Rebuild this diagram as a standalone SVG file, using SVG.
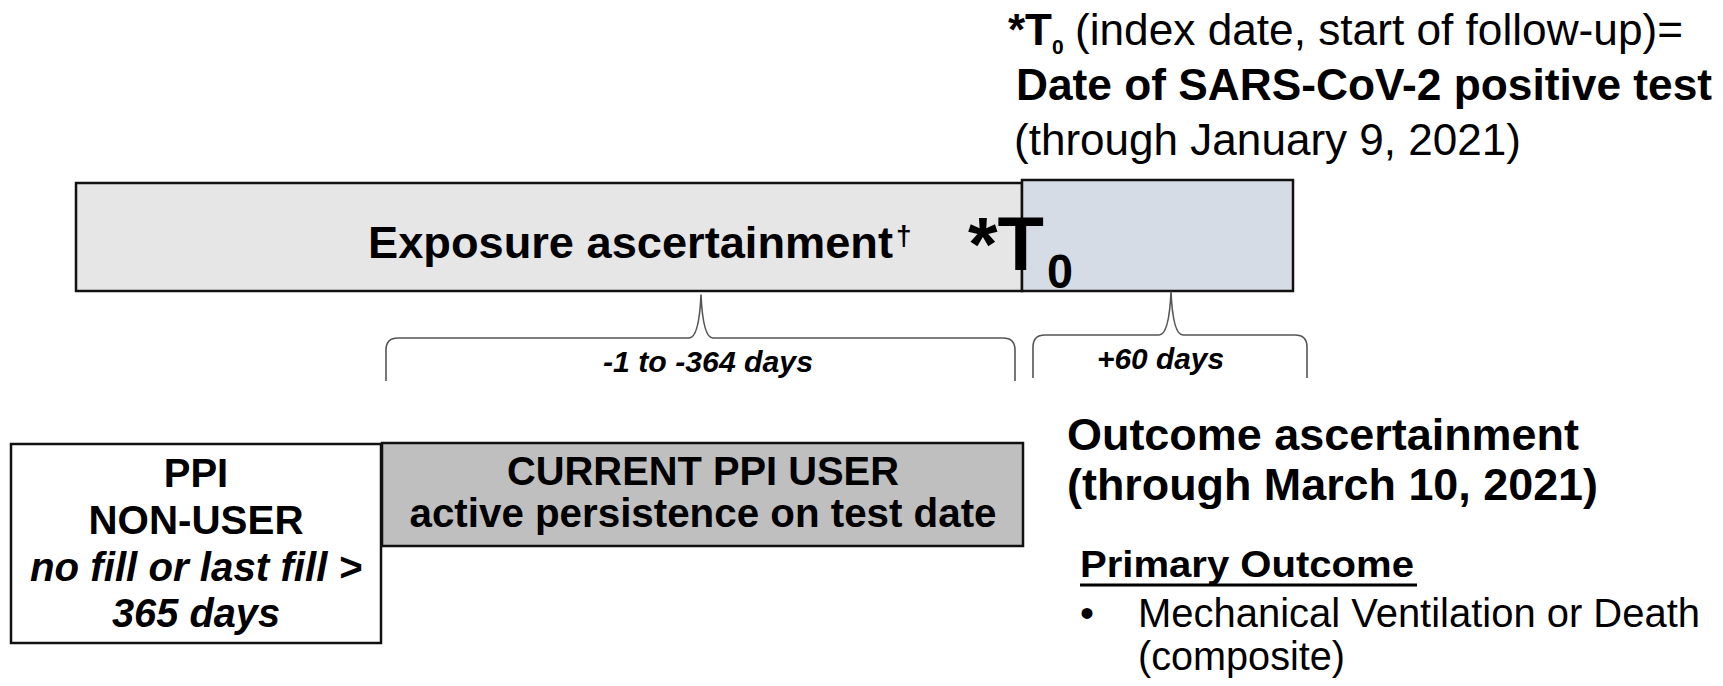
<svg xmlns="http://www.w3.org/2000/svg" width="1723" height="686" viewBox="0 0 1723 686">
<style>
text{font-family:"Liberation Sans",Arial,Helvetica,sans-serif;fill:#000}
.b{font-weight:bold}
.bi{font-weight:bold;font-style:italic}
.box{stroke:#111;stroke-width:2.5}
.brace{fill:none;stroke:#555;stroke-width:1.6;stroke-linejoin:round}
</style>
<rect width="1723" height="686" fill="#fff"/>
<g id="index-note">
<text x="1008" y="45" class="b" font-size="44" textLength="44" lengthAdjust="spacingAndGlyphs">*T</text>
<text x="1052" y="54" class="b" font-size="21">0</text>
<text x="1075" y="45" font-size="44" textLength="608" lengthAdjust="spacingAndGlyphs">(index date, start of follow-up)=</text>
<text x="1016" y="100" class="b" font-size="44" textLength="696" lengthAdjust="spacingAndGlyphs">Date of SARS-CoV-2 positive test</text>
<text x="1014" y="155" font-size="44" textLength="507" lengthAdjust="spacingAndGlyphs">(through January 9, 2021)</text>
</g>
<g id="exposure">
<rect class="box" x="76" y="183" width="946" height="108" fill="#e7e6e6"/>
</g>
<g id="followup">
<rect class="box" x="1022" y="180" width="271" height="111" fill="#d6dce5"/>
</g>
<g id="exposure-labels">
<text x="368" y="258" class="b" font-size="45" textLength="525" lengthAdjust="spacingAndGlyphs">Exposure ascertainment</text>
<text x="896" y="245" class="b" font-size="28">†</text>
<text x="968" y="270" class="b" font-size="76" textLength="76" lengthAdjust="spacingAndGlyphs">*T</text>
<text x="1047" y="288" class="b" font-size="48" textLength="26" lengthAdjust="spacingAndGlyphs">0</text>
</g>
<g id="connectors">
<path class="brace" d="M386,381 L386,350 Q386,338 398,338 L689,338 Q699,338 701,295 Q703,338 713,338 L1003,338 Q1015,338 1015,350 L1015,381"/>
<path class="brace" d="M1033,378 L1033,347 Q1033,335 1045,335 L1159,335 Q1169,335 1171,292 Q1173,335 1183,335 L1295,335 Q1307,335 1307,347 L1307,378"/>
<text x="603" y="372" class="bi" font-size="30" textLength="210" lengthAdjust="spacingAndGlyphs">-1 to -364 days</text>
<text x="1097" y="369" class="bi" font-size="30" textLength="127" lengthAdjust="spacingAndGlyphs">+60 days</text>
</g>
<g id="non-user">
<rect class="box" x="11" y="444" width="370" height="199" fill="#fff"/>
<text x="196" y="487" class="b" font-size="40" text-anchor="middle">PPI</text>
<text x="196" y="534" class="b" font-size="40" text-anchor="middle" textLength="215" lengthAdjust="spacingAndGlyphs">NON-USER</text>
<text x="196" y="581" class="bi" font-size="40" text-anchor="middle" textLength="332" lengthAdjust="spacingAndGlyphs">no fill or last fill &gt;</text>
<text x="196" y="627" class="bi" font-size="40" text-anchor="middle" textLength="168" lengthAdjust="spacingAndGlyphs">365 days</text>
</g>
<g id="current-user">
<rect class="box" x="382" y="443" width="641" height="103" fill="#bfbfbf"/>
<text x="703" y="485" class="b" font-size="40" text-anchor="middle" textLength="392" lengthAdjust="spacingAndGlyphs">CURRENT PPI USER</text>
<text x="703" y="527" class="b" font-size="40" text-anchor="middle" textLength="587" lengthAdjust="spacingAndGlyphs">active persistence on test date</text>
</g>
<g id="outcome">
<text x="1067" y="450" class="b" font-size="45" textLength="512" lengthAdjust="spacingAndGlyphs">Outcome ascertainment</text>
<text x="1067" y="500" class="b" font-size="45" textLength="531" lengthAdjust="spacingAndGlyphs">(through March 10, 2021)</text>
<text x="1080" y="577" class="b" font-size="37" textLength="334" lengthAdjust="spacingAndGlyphs">Primary Outcome</text>
<line x1="1080" y1="585" x2="1417" y2="585" stroke="#000" stroke-width="3"/>
<text x="1080" y="627" font-size="40">•</text>
<text x="1138" y="627" font-size="40" textLength="562" lengthAdjust="spacingAndGlyphs">Mechanical Ventilation or Death</text>
<text x="1138" y="670" font-size="40" textLength="207" lengthAdjust="spacingAndGlyphs">(composite)</text>
</g>
</svg>
